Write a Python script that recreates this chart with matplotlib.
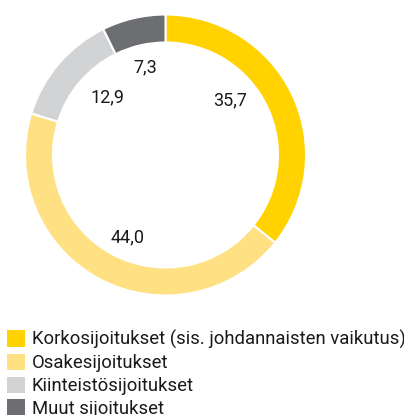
import matplotlib.pyplot as plt
from matplotlib.patches import Patch

plt.rcParams['font.family'] = ['Roboto', 'DejaVu Sans']

categories = ['Korkosijoitukset (sis. johdannaisten vaikutus)',
              'Osakesijoitukset',
              'Kiinteistösijoitukset',
              'Muut sijoitukset']
values = [35.7, 44.0, 12.9, 7.3]
value_labels = ['35,7', '44,0', '12,9', '7,3']
colors = ['#FFD200', '#FFE083', '#D2D3D5', '#6D6E71']

# label positions in pixels (x, y from top)
label_pos = [(230, 100), (128, 237), (107, 97), (145, 67)]

W, H = 404, 415
fig = plt.figure(figsize=(W / 100, H / 100), dpi=100)
ax = fig.add_axes([0, 0, 1, 1])

cx, cy, r = 165.5, H - 155, 140.5
ax.pie(values, colors=colors, startangle=90, counterclock=False,
       center=(cx, cy), radius=r, frame=True,
       wedgeprops=dict(width=28, edgecolor='white', linewidth=1.5))
ax.set_xlim(0, W)
ax.set_ylim(0, H)
ax.set_aspect('equal')
ax.axis('off')

for lab, (x, y) in zip(value_labels, label_pos):
    ax.text(x, H - y, lab, ha='center', va='center', fontsize=13, color='#1a1a1a')

fs = 13.3
handles = [Patch(facecolor=c, edgecolor='none') for c in colors]
fig.legend(handles, categories, loc='upper left', bbox_to_anchor=(7 / W, 1 - 330 / H),
           frameon=False, fontsize=fs, handlelength=0.98, handleheight=0.98,
           handletextpad=0.35, labelspacing=0.24, borderaxespad=0, borderpad=0,
           labelcolor='#1a1a1a')

fig.savefig('out.png', dpi=100)
